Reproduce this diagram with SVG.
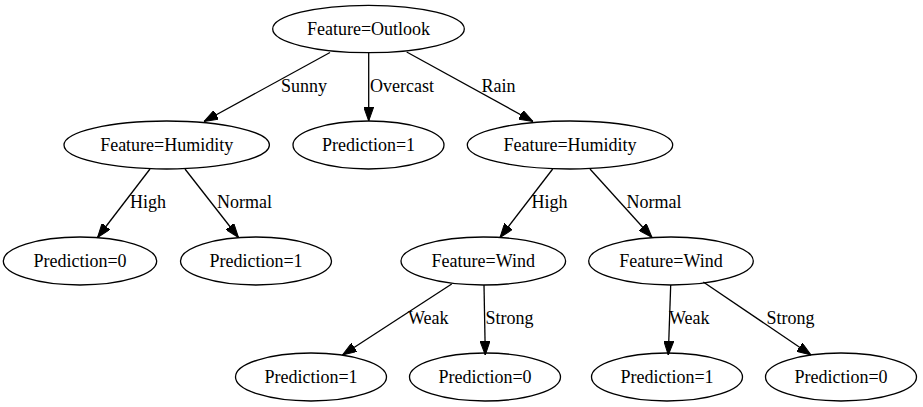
<svg xmlns="http://www.w3.org/2000/svg" width="923" height="407" viewBox="0 0 923 407">
<defs>
<marker id="arr" markerUnits="userSpaceOnUse" markerWidth="14" markerHeight="10" viewBox="0 0 14 10" refX="14" refY="5" orient="auto">
<path d="M0,0 L14,5 L0,10 z" fill="#000" stroke="#000" stroke-width="1"/>
</marker>
</defs>
<style>
ellipse{fill:none;stroke:#000;stroke-width:1.3}
text{font-family:"Liberation Serif","Times New Roman",serif;font-size:18px;fill:#000}
.n text{text-anchor:middle}
.e line{stroke:#000;stroke-width:1.3;marker-end:url(#arr)}
</style>
<rect width="923" height="407" fill="#fff"/>
<g id="n0" class="n"><ellipse cx="368.5" cy="29" rx="95.8" ry="23.7"/><text x="368.5" y="35">Feature=Outlook</text></g>
<g id="n1" class="n"><ellipse cx="166.7" cy="145" rx="102.7" ry="24"/><text x="166.7" y="151">Feature=Humidity</text></g>
<g id="n2" class="n"><ellipse cx="368.5" cy="145" rx="75.5" ry="24"/><text x="368.5" y="151">Prediction=1</text></g>
<g id="n3" class="n"><ellipse cx="570" cy="145" rx="102.7" ry="24"/><text x="570" y="151">Feature=Humidity</text></g>
<g id="n4" class="n"><ellipse cx="80" cy="261" rx="76.7" ry="24"/><text x="80" y="267">Prediction=0</text></g>
<g id="n5" class="n"><ellipse cx="256" cy="261" rx="75.5" ry="24"/><text x="256" y="267">Prediction=1</text></g>
<g id="n6" class="n"><ellipse cx="483.3" cy="261" rx="82.3" ry="24"/><text x="483.3" y="267">Feature=Wind</text></g>
<g id="n7" class="n"><ellipse cx="671" cy="261" rx="82.3" ry="24"/><text x="671" y="267">Feature=Wind</text></g>
<g id="n8" class="n"><ellipse cx="311" cy="377" rx="75.5" ry="24"/><text x="311" y="383">Prediction=1</text></g>
<g id="n9" class="n"><ellipse cx="485" cy="377" rx="75.5" ry="24"/><text x="485" y="383">Prediction=0</text></g>
<g id="n10" class="n"><ellipse cx="667" cy="377" rx="75.5" ry="24"/><text x="667" y="383">Prediction=1</text></g>
<g id="n11" class="n"><ellipse cx="841" cy="377" rx="75.5" ry="24"/><text x="841" y="383">Prediction=0</text></g>
<g id="edges" class="e">
<line x1="330" y1="52.5" x2="204" y2="121.5"/>
<text x="281" y="92">Sunny</text>
<line x1="368.7" y1="52.7" x2="368.7" y2="121"/>
<text x="370" y="92">Overcast</text>
<line x1="406.7" y1="52" x2="533" y2="121.5"/>
<text x="481.5" y="92">Rain</text>
<line x1="150" y1="169" x2="97.5" y2="237.5"/>
<text x="130" y="208">High</text>
<line x1="185" y1="169" x2="238.5" y2="237.5"/>
<text x="217" y="208">Normal</text>
<line x1="552.7" y1="169" x2="500" y2="237.5"/>
<text x="531.5" y="208">High</text>
<line x1="590" y1="169" x2="652" y2="237.5"/>
<text x="626.5" y="208">Normal</text>
<line x1="451.7" y1="284" x2="342.5" y2="355"/>
<text x="408" y="324">Weak</text>
<line x1="484" y1="285" x2="485.3" y2="355"/>
<text x="485.5" y="324">Strong</text>
<line x1="670.7" y1="285" x2="668.3" y2="355"/>
<text x="669" y="324">Weak</text>
<line x1="703.3" y1="282" x2="811" y2="355"/>
<text x="766.5" y="324">Strong</text>
</g>
</svg>
